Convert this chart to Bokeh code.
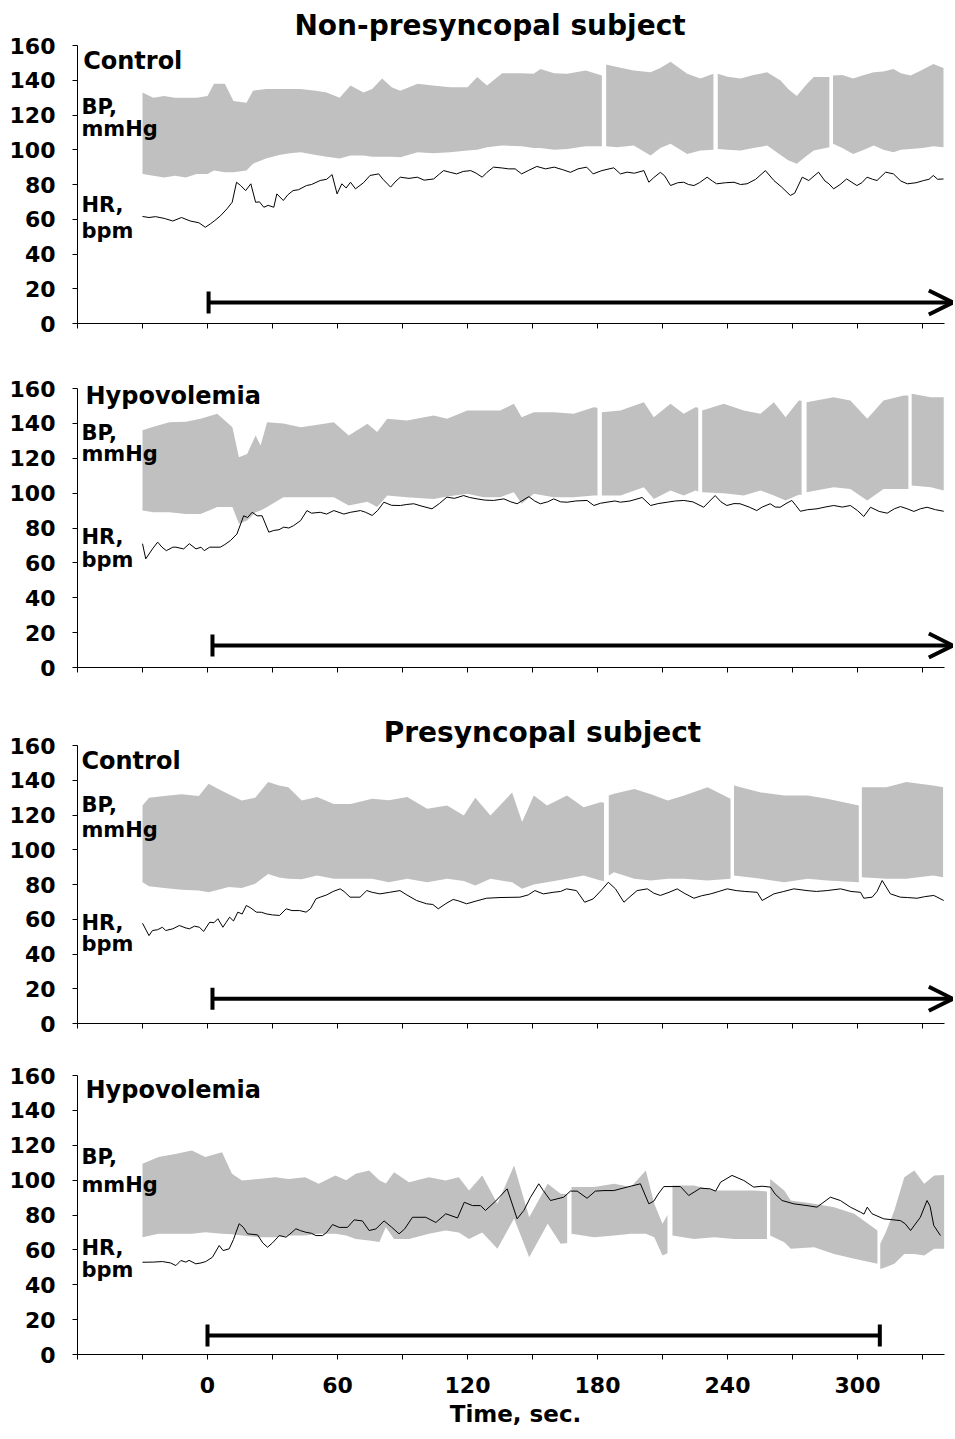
import numpy as np
from bokeh.plotting import figure
from bokeh.models import Range1d, FixedTicker, Label, Arrow, OpenHead, TeeHead
from bokeh.layouts import column
from bokeh.embed import file_html
from bokeh.resources import INLINE

FONT = "DejaVu Sans"

# ---------------- data: (time s, systolic envelope, diastolic envelope) ----------------
p1_bp = [(-30,133,86),(-25,130,85),(-20,131,84),(-15,130,85),(-10,130,84),(-5,130,86),(0,131,86),
         (3,138,88),(8,138,87),(12,128,87),(18,127,88),(21,134,92),(27,135,95),(33,135,97),(38,135,98),
         (43,135,98.6),(50,134,97),(55,133,96),(61,130,95),(66,137,96.7),(72,133,96.7),(76,135,96),
         (80.6,141,96),(85,136,96),(89,134,95.7),(97,138,98.6),(104,137,98),(112,136,98.6),(120,136,99.6),
         (124.5,141.8,100),(129,137,101.5),(136,144,102.4),(145,144,102),(150.5,143.7,101),(153.7,146.5,101),
         (160,144,100),(166,143.7,100.5),(174.6,145.6,102),(182,142.7,102),
         (184,149,102),(189,147.6,101.5),(196.7,145.6,102.4),(204.5,144.6,96.7),(209,147,101),
         (213.7,150.6,103.4),(221.4,143.7,97.6),(227.5,141,99.6),(233.5,143.7,100),
         (235.5,143.7,100.5),(240,142,100),(246,141,99.6),(252,143,101),(258.3,144.6,102.4),
         (264.5,139.9,97),(268,135,94),(272,131,91.9),(276,137,96),(279.8,141.8,99.6),(287,141.8,101.5),
         (288.7,142.7,103.4),(293,143,101),(298,141,97.6),(303,143,100),(307.5,144.6,102.4),(312,145,100),
         (316.6,146.5,98.6),(320,144,100),(324.5,142.7,100.5),(330,146,101),(335,149.4,102),(339.7,147,101.5)]
p1_gaps = [(182,184),(233.5,235.5),(287,288.7)]
p1_hr = [(-30,61.6),(-27,61),(-24,61.5),(-20,60.5),(-16,59),(-12,61),(-8,59),(-4,58),(-1,55.4),(1.5,57.5),
         (3.4,59.3),(6,62),(9,66),(11.4,69.8),(13.4,81.3),(15.3,79.4),(17.6,76.5),(20,80.4),(22.2,69.8),
         (24,70),(26,66.9),(28,68),(30.6,66.9),(32,74.6),(35,70.8),(37,74),(39.5,76.5),(42,77),(45.7,79.4),
         (48,80),(52,82.3),(55,83),(57.5,85.7),(59.8,74.6),(62,80.4),(64,78),(66,81.3),(68.3,77.5),(72,81),
         (75,85.2),(79,86.1),(81,83),(84.5,78.5),(87,82),(89,84.2),(93,83.5),(96.8,84.2),(100,82.5),
         (104.4,83.2),(107,86),(109,88),(112,87),(115,86.1),(118,87.5),(121.5,88),(124,86.5),(126.8,84.2),
         (129,87),(132,90),(136,89.5),(139,89),(142,89),(145,86.1),(148,88),(152,90.4),(156,89),(160,90),
         (164,88.5),(167.5,87),(171,89),(175,90),(178,86.1),(182,88),(187.5,89.6),(190.6,86.1),(193.7,87.1),
         (197,86.5),(201.4,88),(203.7,81.3),(206,84),(209,87),(211,85),(213.7,79.4),(217,81),(219.8,81.3),
         (222,80),(224.5,79.4),(227,81),(230.6,84.2),(233,82),(235,80.4),(239,81),(243,81.3),(246,80),
         (249,80.4),(253,83),(257.5,88),(261.4,82.3),(265,78.5),(269,73.7),(271,75),(274.5,84.2),(277.5,82.3),
         (282,87.1),(285,82),(286.8,80.4),(289,77.5),(292,80),(295,83.2),(299.7,79.4),(302,81),(304.4,84.2),
         (307,83),(309,82.3),(313,87.1),(316.6,86.1),(320,82),(323,80.4),(327,81),(330.6,82.3),(333,83),
         (335,85.2),(337,83),(339.7,83.2)]

p2_bp = [(-30,136,90),(-25,138,89),(-17.6,140.7,89),(-10,141,88),(-3.2,142.6,88),(4.5,145.5,92),
         (11.5,137.8,92),(14.5,120.6,82.4),(18.3,122.5,84.3),(22.2,133,89),(24.5,127.3,90),(27.5,140.7,92),
         (35,140,97.7),(43,137.8,97.7),(50,139,97.7),(58.3,140.7,97.7),(65.2,133,92.9),(73.8,139.8,95),
         (78.3,135,92),(83,142.6,98.6),(92,141.7,97.7),(104.4,144.5,96.7),(110.6,142.6,98),(119.9,147.4,99.6),
         (127.5,147.4,97.7),(135,147.4,97.7),(141.4,151.2,100.5),(145,143.5,93.9),(150.6,146.4,99.6),
         (159.8,146.4,97.7),(169,145.5,97.7),(178.3,149.3,98.6),(180,149,98.6),
         (182,146.4,98.6),(190.6,147.4,98.6),(201.4,152.1,103.4),(206,143.5,96.7),(213.7,151.2,101.5),
         (219.8,145.5,98.6),(225.2,149.3,101.5),(226.5,149,101),
         (228.3,147.4,100.5),(238.3,151.2,100),(247.5,147.4,98.6),(255.2,145.5,101.5),(261.4,152.1,98.6),
         (266.8,143.5,95.8),(272.9,153.1,99),(274.2,153,99),
         (276.5,152.1,100.5),(289,155,103.4),(296.7,153.1,102.4),(304.5,142.6,95.8),(312,153.1,102.4),
         (321.4,156,102.4),(323.5,156,102.4),
         (325,157,104.4),(333.8,155,103.4),(339.8,155,101.5)]
p2_gaps = [(180,182),(226.5,228.3),(274.2,276.5),(323.5,325)]
p2_hr = [(-30,71),(-28.5,62.3),(-25.4,68),(-23,71.9),(-21,69),(-19,67),(-16,69),(-14.6,69),(-11,68),
         (-8.4,71),(-5.3,68),(-3,69),(-1.5,67),(1,69),(5.9,69),(8,70.5),(10.6,72.8),(13.6,76.6),(16.7,87),
         (18.5,86),(20.6,89),(22.9,87),(25.2,87),(28.3,77.6),(30.6,78.6),(33,79),(35.2,80.5),(37.5,80),
         (39.8,81.4),(43,84.3),(45.9,90),(48,88.5),(52,89),(55,88),(58.3,90),(62.9,88),(66,89),(70.6,90),
         (73,89),(76,87.2),(78.5,90),(81.4,94.8),(85,93),(89,92.9),(92,93.5),(95.2,93.9),(99,92.5),
         (103.6,91),(107,94),(110.5,97.7),(114,97),(118.2,98.6),(121,97.5),(124.4,96.7),(128,96),(132,95.8),
         (136.8,96.7),(140,95),(142.9,93.9),(145,95.5),(148.3,98),(151,95.5),(153.6,93.9),(157,95),
         (159.8,96.7),(163,95),(166,94.8),(170,95.5),(175.2,95.8),(178.3,92.9),(181.4,94.2),(184.4,94.8),
         (188,95.5),(190.6,94.8),(195,95.5),(200.6,97.5),(204.5,92.9),(208,94),(212.2,94.8),(216,95.5),
         (219.8,95.8),(224,95),(229,91.9),(234.3,98.6),(237,95),(239.7,92.9),(243,94),(245.8,93.9),(250,92),
         (253.5,90),(256,92),(259.7,93.9),(262,92),(264.3,91.9),(267,94),(269.7,95.8),(271.5,93),(273.6,89.6),
         (277,90.5),(281.3,91),(285,92),(289,92.9),(293,92),(296.7,92.9),(300,90),(302.9,86.6),(306,91.9),
         (310,89.5),(313.7,88.5),(317,91),(319.8,92.3),(323,91),(326,89.5),(329,91),(332.1,91.9),(336,90.5),
         (339.8,89.6)]

p3_bp = [(-30,125.5,81.3),(-27,130,79),(-20,131,78),(-12,132,77),(-4,131,76.5),(0.5,138,75.6),(5,135,77),
         (9.8,132,78.5),(15.8,128.3,78),(22,130,80.4),(28,139,86),(33,137,84),(37.3,136,83.3),(43.5,128.3,83),
         (50.6,130.3,85.2),(58.3,126.4,83.3),(66,126.4,83.3),(76,129.3,83.3),(83.7,128.5,81.3),(92.2,130.3,83.3),
         (101.4,123.6,81.3),(110.6,125.5,83.3),(118.3,119.7,82),(123.6,130,79.4),(130.6,119.7,83.3),
         (140.6,133,81.3),(145.2,115.9,77.5),(150.6,131.2,80),(156.7,125.5,81.3),(165.9,131.2,83.3),
         (173.6,124.5,85.2),(181.4,127.4,82.3),(183,127,82),
         (185.2,131.2,85.2),(187.6,132.2,87),(197,135,83.3),(204.7,132,82.3),(212.4,128.3,83.3),(220,131.2,83.3),
         (230.8,136,82.3),(241.4,129.3,83.3),
         (243,137,85.2),(255.4,133,83.3),(266.2,131.2,81.3),(277,131.2,83.3),(286,129.3,82.3),(300.6,125.5,81.3),
         (302,136,84.2),(313.3,136,83.3),(322.6,139,83.3),(334.9,137,85.2),(339.5,136,84.2)]
p3_gaps = [(183,185.2),(241.4,243),(300.6,302)]
p3_hr = [(-30,57.7),(-27,50.6),(-25.4,53.5),(-23,54),(-20.8,55.4),(-19.3,53.5),(-16,54.5),(-13,56.4),
         (-10,55),(-8.4,54.5),(-6,56),(-3.7,55.4),(-1.8,53),(1,58.3),(3,58),(4.8,60.3),(7.1,55.4),(8.5,58),
         (10.2,61.2),(12,59),(14,64.1),(16,63),(17.9,67.9),(20,66.5),(22.5,64.1),(25,64),(27.1,63.1),(30,62.5),
         (33.3,62.2),(36.3,66),(39,65),(42.5,65),(45.5,64.1),(47.5,66),(50.1,71.8),(52,72.7),(55,74),(58,76),
         (61.2,77.5),(63,76),(65.8,72.7),(70.4,72.7),(73.5,76.5),(76,75.5),(79.6,74.6),(84,75.5),(88.8,76.5),
         (92,74),(96.5,70.8),(101.1,68.9),(104,68.5),(106.5,66),(110,69),(113.4,71.4),(116,70.5),(119.6,68.9),
         (124,70.5),(128.8,72.1),(135,72.5),(144.2,72.7),(148,74),(151.1,76.5),(155,74.6),(159.5,75.5),(163,76),
         (165.7,77.5),(170.3,76.5),(174.1,69.8),(178,71.7),(182,77),(185,81.3),(188.3,77.5),(192.2,69.8),
         (195,73),(198.3,76.5),(203,77.5),(206,75),(209,73.7),(213,75.5),(216.8,77.5),(220,75),(224.5,72.1),
         (228,73.5),(232.2,74.6),(236,76),(239.9,77.5),(244,76.5),(248,76),(253.7,75.5),(256,70.8),(261.4,74.6),
         (266,76),(270.6,77.5),(276.7,76.5),(281,76),(286,76.5),(292.2,77.5),(297,76),(301.4,75.5),(302.9,72.1),
         (306.8,72.7),(309,76),(311.4,82.3),(313.5,78),(315.2,74.6),(319.8,72.7),(323,72.5),(327.5,72.1),
         (331,73),(335.2,73.7),(339.8,70.8)]

p4_bp = [(-30,109.4,67.3),(-22.6,113.2,69.2),(-14.9,115,69.2),(-7.2,117,69.2),(-1,113.2,70.1),(6.7,116,69.2),
         (11.3,103.6,69),(15.9,99.8,68.2),(23.6,100.7,67.3),(31.3,101.7,67.3),(37.4,100.7,68.2),(45.1,101.7,68.2),
         (51.3,97.9,69.2),(59,102.7,69.2),(64,100,68.2),(68.4,103.6,66.3),(74.6,105.5,65.4),(79.3,100,64.5),
         (82.3,98,73),(86.1,104.5,66.3),(93,98.8,66.3),(102.2,101.7,69.2),(109.9,99.8,71.1),(116,101.7,70),
         (120.7,94,66.3),(126.8,102.7,70),(133.8,86.4,60.6),(141.5,108.4,78),(148.5,78.7,55.8),(157,97.9,75),
         (163,92.2,63.5),(166,92,64),
         (168,96,69.2),(178.5,96,67.3),(187.7,97.9,68.2),(195.4,96,69.2),(202.3,105.5,69.2),(206.2,86.4,67.3),
         (210,75,56.8),(212.3,80,58),
         (214.6,96.9,68.2),(224.6,96.9,66.3),(233.8,94,67.3),(243,94,66.3),(252.3,94,66.3),(258.2,93.5,66.3),
         (259.7,100.7,68.2),(266.2,94,64.4),(269.2,88.3,60.6),(280,86.4,61.5),(289.2,84.5,57.7),(298.5,80.7,54.9),
         (309.2,71.1,52),
         (310.5,63.5,49.1),(313,70,50),(317,82.6,52),(321.6,101.7,57.7),(326.2,105.5,57.7),(330.8,97.9,56.8),
         (335.4,102.7,60.6),(340,103,60.6)]
p4_gaps = [(166,168),(212.3,214.6),(258.2,259.7),(309.2,310.5)]
p4_hr = [(-30,52.9),(-25,53),(-20.8,53.3),(-17,52.5),(-14.6,51),(-12.3,53.9),(-10,53),(-8.5,54),(-5.4,52),
         (-3,52.5),(-0.8,53.3),(2.3,55.8),(5.4,62.5),(7.2,59.6),(10,60.6),(12,66),(14.6,75),(16.5,73),(18.5,69.2),
         (23.1,68.6),(25.5,64),(27.7,61.5),(30,64),(33.1,68.2),(36.2,67.3),(38,69),(40.8,72.1),(43,71),
         (45.4,70.1),(48,69.5),(50,68.2),(53.1,68.2),(55,70),(57.7,74.5),(60.8,72.9),(64.6,72.9),(67.7,77.2),
         (71.5,76.6),(74.6,71.1),(77.7,72),(81.5,76.6),(85,73),(88.4,69.2),(91,72),(94.6,78.7),(100.7,78.7),
         (105.4,75.7),(110,80.7),(115.4,78.3),(118.5,87.3),(122.3,85.4),(126,85.4),(128.3,82.6),(133,88),
         (138.3,95),(142.9,77.8),(146,82.6),(149,90),(152.9,97.9),(155,94),(158.3,88.3),(164.4,90.2),
         (167.5,93.7),(170.6,93.7),(175.2,89.6),(179,93.7),(183,94),(187.5,94),(193.7,96),(199.8,97.9),
         (203.7,86.4),(206,88),(208,92),(210.6,96.3),(218.3,96.3),(222.1,91.2),(227.5,95.4),(232,95),
         (234.5,93.7),(236.8,98.8),(242.1,102.7),(247.5,99.8),(252.1,96),(256,96.5),(259.8,96),(262,92),
         (265.2,88.3),(270.6,86.4),(276.7,85.4),(281.3,84.5),(284,87),(287.5,90.2),(292.1,88.3),(296.7,84.5),
         (301.4,81.6),(303,80.5),(304.5,84.5),(306.7,80.7),(312.1,77.8),(319.8,76.8),(322,75),(324.5,71.1),
         (329,78.7),(332.1,88.3),(333.5,85),(335.2,74),(338.3,68.2)]

# text labels: (text, x, y of text middle, font size, align)
p1_labels = [("Non-presyncopal subject",130.4,171.5,"28px","center"),("Control",-57.4,151.1,"24px","left"),
             ("BP,",-58.2,124.6,"21px","left"),("mmHg",-58.2,111.7,"21px","left"),
             ("HR,",-58.2,68,"21px","left"),("bpm",-58.2,53.2,"21px","left")]
p2_labels = [("Hypovolemia",-56.3,155.7,"24px","left"),("BP,",-58.2,134.5,"21px","left"),
             ("mmHg",-58.2,122.5,"21px","left"),("HR,",-58.2,74.7,"21px","left"),("bpm",-58.2,61.8,"21px","left")]
p3_labels = [("Presyncopal subject",154.6,167.2,"28px","center"),("Control",-58.2,151.1,"24px","left"),
             ("BP,",-58.2,125.9,"21px","left"),("mmHg",-58.2,111.1,"21px","left"),
             ("HR,",-58.2,57.8,"21px","left"),("bpm",-58.2,45.9,"21px","left")]
p4_labels = [("Hypovolemia",-56.3,151.4,"24px","left"),("BP,",-58.2,113.2,"21px","left"),
             ("mmHg",-58.2,97.4,"21px","left"),("HR,",-58.2,61.1,"21px","left"),("bpm",-58.2,48.6,"21px","left")]

# time-bar arrows: (start, end, y, end head)
p1_arrow = (0.5, 344, 12.1, "open")
p2_arrow = (2.3, 344, 12.6, "open")
p3_arrow = (2.3, 344, 14.2, "open")
p4_arrow = (0, 310.3, 10.9, "tee")

x_ticks_major = [0, 60, 120, 180, 240, 300]
x_ticks_all = list(range(-60, 331, 30))
y_ticks = list(range(0, 161, 20))

# ---------------- layout ----------------
FRAME_W = 876
PX_PER_S = 65.0 / 30.0
X_END = -60 + FRAME_W / PX_PER_S
LEFT = 77

panels = [
    dict(bp=p1_bp, gaps=p1_gaps, hr=p1_hr, labels=p1_labels, arrow=p1_arrow, height=338, bottom=15, unit=278/160, last=False),
    dict(bp=p2_bp, gaps=p2_gaps, hr=p2_hr, labels=p2_labels, arrow=p2_arrow, height=342, bottom=13, unit=279/160, last=False),
    dict(bp=p3_bp, gaps=p3_gaps, hr=p3_hr, labels=p3_labels, arrow=p3_arrow, height=356, bottom=13, unit=278/160, last=False),
    dict(bp=p4_bp, gaps=p4_gaps, hr=p4_hr, labels=p4_labels, arrow=p4_arrow, height=398, bottom=80, unit=279/160, last=True),
]


def make_panel(cfg):
    frame_h = cfg["height"] - cfg["bottom"]
    y_end = frame_h / cfg["unit"]
    p = figure(width=LEFT + FRAME_W, height=cfg["height"], x_range=Range1d(-60, X_END),
               y_range=Range1d(0, y_end), output_backend="svg", toolbar_location=None,
               min_border_left=LEFT, min_border_right=0, min_border_top=0,
               min_border_bottom=cfg["bottom"], outline_line_color=None,
               background_fill_color="white", border_fill_color="white")
    p.grid.visible = False

    bp = np.array(cfg["bp"], dtype=float)
    t, hi, lo = bp[:, 0], bp[:, 1], bp[:, 2]
    edges = [-np.inf] + [g for gap in cfg["gaps"] for g in gap] + [np.inf]
    for a, b in zip(edges[0::2], edges[1::2]):
        m = (t >= a) & (t <= b)
        if m.sum() > 1:
            p.varea(x=t[m], y1=lo[m], y2=hi[m], fill_color="#c0c0c0", fill_alpha=1.0)

    hr = np.array(cfg["hr"], dtype=float)
    p.line(hr[:, 0], hr[:, 1], line_color="black", line_width=1.0)

    for text, x, y, size, align in cfg["labels"]:
        p.add_layout(Label(x=x, y=y, text=text, text_font=FONT, text_font_style="bold",
                           text_font_size=size, text_color="black", text_align=align,
                           text_baseline="middle"))

    xs, xe, ya, head = cfg["arrow"]
    end = OpenHead(size=24, line_width=4, line_color="black") if head == "open" else \
        TeeHead(size=22, line_width=4, line_color="black")
    p.add_layout(Arrow(x_start=xs, y_start=ya, x_end=xe, y_end=ya, line_width=4, line_color="black",
                       start=TeeHead(size=22, line_width=4, line_color="black"), end=end))

    # y axis
    ya_ = p.yaxis[0]
    ya_.ticker = FixedTicker(ticks=y_ticks, minor_ticks=[])
    ya_.bounds = (0, 160)
    ya_.axis_line_color = "black"
    ya_.major_tick_line_color = "black"
    ya_.major_tick_out = 5
    ya_.major_tick_in = 0
    ya_.minor_tick_line_color = None
    ya_.major_label_standoff = 17
    ya_.major_label_text_font = FONT
    ya_.major_label_text_font_style = "bold"
    ya_.major_label_text_font_size = "22px"
    ya_.major_label_text_color = "black"

    # x axis
    xa = p.xaxis[0]
    xa.bounds = (-60, 340)
    xa.axis_line_color = "black"
    xa.major_tick_line_color = "black"
    xa.minor_tick_line_color = "black"
    xa.major_tick_out = 5
    xa.major_tick_in = 0
    xa.minor_tick_out = 5
    xa.minor_tick_in = 0
    if cfg["last"]:
        xa.ticker = FixedTicker(ticks=x_ticks_major,
                                minor_ticks=[v for v in x_ticks_all if v not in x_ticks_major])
        xa.major_label_standoff = 17
        xa.major_label_text_font = FONT
        xa.major_label_text_font_style = "bold"
        xa.major_label_text_font_size = "22px"
        xa.major_label_text_color = "black"
        xa.axis_label = "Time, sec."
        xa.axis_label_text_font = FONT
        xa.axis_label_text_font_style = "bold"
        xa.axis_label_text_font_size = "23px"
        xa.axis_label_text_color = "black"
        xa.axis_label_standoff = 5
    else:
        xa.ticker = FixedTicker(ticks=[], minor_ticks=x_ticks_all)
        xa.major_label_standoff = 0
    return p


figs = [make_panel(c) for c in panels]
layout = column(*figs, spacing=0)
open("out.html", "w").write(file_html(layout, INLINE))
